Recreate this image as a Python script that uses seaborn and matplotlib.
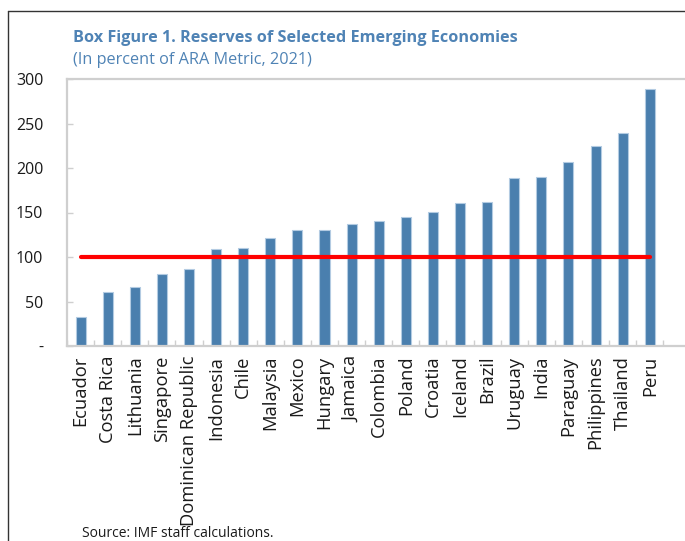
import matplotlib
matplotlib.use("Agg")
import matplotlib.pyplot as plt
import seaborn as sns
import pandas as pd
from matplotlib.lines import Line2D
from matplotlib.ticker import FixedLocator

countries = ["Ecuador", "Costa Rica", "Lithuania", "Singapore", "Dominican Republic",
             "Indonesia", "Chile", "Malaysia", "Mexico", "Hungary", "Jamaica", "Colombia",
             "Poland", "Croatia", "Iceland", "Brazil", "Uruguay", "India", "Paraguay",
             "Philippines", "Thailand", "Peru"]
reserves = [33, 61, 66, 81, 87, 109, 110, 121, 130, 130, 137, 140,
            145, 151, 161, 162, 189, 190, 207, 225, 239, 289]
threshold = [100] * len(countries)
yticks = [0, 50, 100, 150, 200, 250, 300]
yticklabels = ["-", "50", "100", "150", "200", "250", "300"]

title = "Box Figure 1. Reserves of Selected Emerging Economies"
subtitle = "(In percent of ARA Metric, 2021)"
source = "Source: IMF staff calculations."

df = pd.DataFrame({"country": countries, "reserves": reserves, "threshold": threshold})

sns.set_theme(style="white")
plt.rcParams["font.family"] = ["Open Sans", "DejaVu Sans"]

W, H = 685, 541
fig = plt.figure(figsize=(W / 100, H / 100), dpi=100)
ax = fig.add_axes([67 / W, 1 - 346 / H, (W - 67) / W, (346 - 79) / H])

sns.barplot(data=df, x="country", y="reserves", ax=ax, color="#4A7FAE",
            saturation=1, width=0.37, edgecolor="#B3CBE2", linewidth=0.8)
sns.lineplot(data=df, x="country", y="threshold", ax=ax, color="#FF0000",
             linewidth=3.0, sort=False)

ax.set_xlim(-0.5, 22.3)
ax.set_ylim(0, 300)
ax.set_xlabel("")
ax.set_ylabel("")

for s in ["left", "bottom", "top"]:
    ax.spines[s].set_color("#CFCFCF")
    ax.spines[s].set_linewidth(1.6)
ax.spines["right"].set_visible(False)

ax.set_yticks(yticks)
ax.set_yticklabels(yticklabels)
ax.tick_params(axis="y", direction="in", length=4, width=1, color="#CFCFCF",
               pad=17, labelsize=11.5, labelcolor="#1a1a1a", left=True)
ax.tick_params(axis="x", length=0, pad=7, labelsize=13.2, labelcolor="#1a1a1a",
               labelrotation=90)
for lab in ax.get_xticklabels():
    lab.set_ha("center")
    lab.set_va("top")
ax.xaxis.set_minor_locator(FixedLocator([i - 0.5 for i in range(len(countries) + 1)]))
ax.tick_params(axis="x", which="minor", direction="in", length=4, width=1,
               color="#CFCFCF", bottom=True)

blue = "#4F83B5"
fig.text(73 / W, 1 - 42 / H, title, fontsize=11.7, fontweight="bold", color=blue,
         va="baseline", ha="left")
fig.text(73 / W, 1 - 64 / H, subtitle, fontsize=11.7, color=blue,
         va="baseline", ha="left")
fig.text(82 / W, 1 - 537 / H, source, fontsize=10, color="#1a1a1a",
         va="baseline", ha="left")

fig.add_artist(Line2D([8 / W, 8 / W], [0, 1 - 11 / H], transform=fig.transFigure,
                      color="#333333", linewidth=1.0))
fig.add_artist(Line2D([8 / W, 1], [1 - 11 / H, 1 - 11 / H], transform=fig.transFigure,
                      color="#333333", linewidth=1.0))

fig.savefig("out.png", dpi=100)
